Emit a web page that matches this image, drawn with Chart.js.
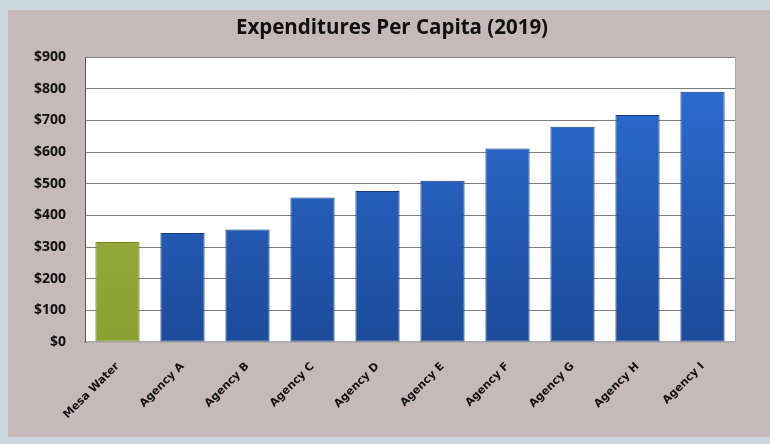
<!DOCTYPE html>
<html>
<head>
<meta charset="utf-8">
<script src="https://cdn.jsdelivr.net/npm/chart.js@4.4.0/dist/chart.umd.min.js"></script>
<style>
  html, body { margin: 0; padding: 0; background: #cbd8df; }
  #wrap { width: 770px; height: 444px; position: relative; }
</style>
</head>
<body>
<div id="wrap"><canvas id="spend" width="770" height="444"></canvas></div>
<script>
// values
const chartTitle = 'Expenditures Per Capita (2019)';
const agencies = ['Mesa Water', 'Agency A', 'Agency B', 'Agency C', 'Agency D',
                  'Agency E', 'Agency F', 'Agency G', 'Agency H', 'Agency I'];
const perCapita = [316, 344, 355, 456, 477, 509, 611, 680, 717, 790];
const yTicks = [0, 100, 200, 300, 400, 500, 600, 700, 800, 900];

// gradient fill for the bars, green for Mesa Water, blue for the rest
function barFill(ctx) {
  const chart = ctx.chart;
  const area = chart.chartArea;
  if (!area) return '#2a64c0';
  const g = chart.ctx.createLinearGradient(0, area.top, 0, area.bottom);
  if (ctx.dataIndex === 0) {
    g.addColorStop(0, '#a3b83e');
    g.addColorStop(1, '#8ba032');
  } else {
    g.addColorStop(0, '#2d70d6');
    g.addColorStop(1, '#1c4b9a');
  }
  return g;
}

// grey card behind everything + white plot area + title (centred on the card, not the plot)
const panel = {
  id: 'panel',
  beforeDraw(chart) {
    const c = chart.ctx;
    const a = chart.chartArea;
    c.save();
    c.fillStyle = '#c6b9ba';
    c.fillRect(8, 10, 762, 427);
    c.fillStyle = '#ffffff';
    c.fillRect(a.left, a.top, a.right - a.left, a.bottom - a.top);
    c.strokeStyle = '#a9a9a9';
    c.lineWidth = 1;
    c.strokeRect(a.left + 0.5, a.top + 0.5, a.right - a.left, a.bottom - a.top);
    c.fillStyle = '#111';
    c.font = 'bold 20.5px "Open Sans"';
    c.textAlign = 'center';
    c.textBaseline = 'middle';
    c.fillText(chartTitle, 392, 28);
    c.restore();
  }
};

new Chart(document.getElementById('spend'), {
  type: 'bar',
  data: {
    labels: agencies,
    datasets: [{
      data: perCapita,
      backgroundColor: barFill,
      borderColor: ctx => ctx.dataIndex === 0 ? '#6f7f22' : '#123a7c',
      borderWidth: 1,
      borderSkipped: false,
      barPercentage: 0.68,
      categoryPercentage: 1.0
    }]
  },
  options: {
    responsive: false,
    animation: false,
    devicePixelRatio: 1,
    layout: { padding: { left: 0, right: 35, top: 57, bottom: 0 } },
    plugins: {
      legend: { display: false },
      tooltip: { enabled: false },
      title: { display: false }
    },
    scales: {
      x: {
        grid: { display: false },
        border: { color: '#b0b0b0', width: 2 },
        ticks: {
          color: '#111',
          font: { family: 'DejaVu Sans', size: 11, weight: 'bold' },
          maxRotation: 45,
          minRotation: 45,
          padding: 10
        },
        afterFit(scale) { scale.height = 102; }
      },
      y: {
        min: 0,
        max: 900,
        afterBuildTicks(scale) { scale.ticks = yTicks.map(v => ({ value: v })); },
        grid: { color: '#7d7d7d', lineWidth: 1, drawTicks: false },
        border: { color: '#555', width: 1 },
        ticks: {
          color: '#111',
          font: { family: 'Open Sans', size: 14, weight: 'bold' },
          padding: 19,
          callback: v => '$' + v
        },
        afterFit(scale) { scale.width = 85; }
      }
    }
  },
  plugins: [panel]
});
</script>
</body>
</html>
